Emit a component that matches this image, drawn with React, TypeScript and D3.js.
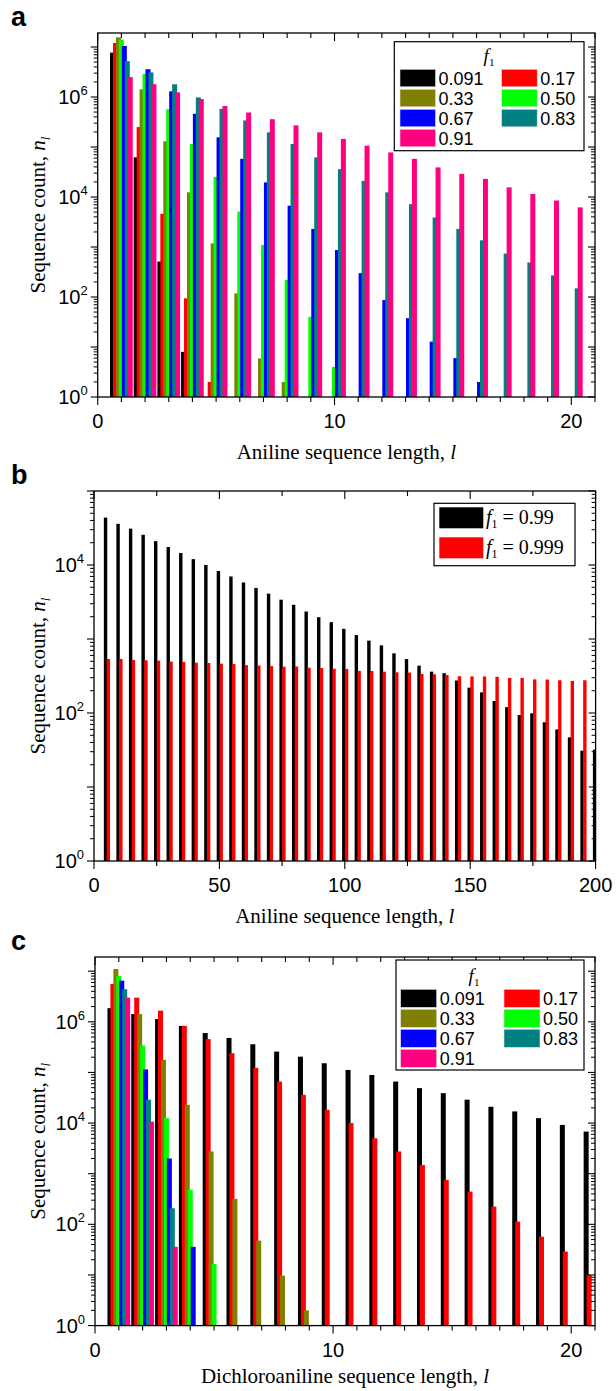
import React from 'react';
import * as d3 from 'd3';

// ---------- data ----------
const COLORS = ['#000000', '#FF0000', '#808000', '#00FF00', '#0000FF', '#008080', '#FF0080'];
const F1_LABELS = ['0.091', '0.17', '0.33', '0.50', '0.67', '0.83', '0.91'];

// Panel a: aniline sequence length l = 1..20
const lengthsA = [1, 2, 3, 4, 5, 6, 7, 8, 9, 10, 11, 12, 13, 14, 15, 16, 17, 18, 19, 20];
const a091 = [7.7e6, 6.2e4, 510, 8];
const a017 = [1.2e7, 2.5e5, 4.6e3, 94, 2];
const a033 = [1.56e7, 1.42e6, 1.3e5, 1.24e4, 1.18e3, 118, 5.9, 2];
const a050 = [1.4e7, 2.9e6, 5.7e5, 1.15e5, 2.5e4, 5.1e3, 1.1e3, 219, 40, 4];
const a067 = [1.05e7, 3.6e6, 1.3e6, 4.6e5, 1.56e5, 5.8e4, 1.96e4, 6.7e3, 2.3e3, 870, 300, 87, 37.6, 12.8, 6, 2];
const a083 = [5.2e6, 3.1e6, 1.8e6, 9.8e5, 5.8e5, 3.4e5, 1.96e5, 1.15e5, 6.2e4, 3.6e4, 2.1e4, 1.24e4, 7.2e3, 3.9e3, 2.3e3, 1.36e3, 740, 490, 270, 149];
const a091b = [2.5e6, 1.8e6, 1.24e6, 9.1e5, 6.6e5, 4.9e5, 3.6e5, 2.7e5, 1.96e5, 1.45e5, 1.06e5, 7.8e4, 5.8e4, 3.9e4, 2.9e4, 2.3e4, 1.56e4, 1.15e4, 8.5e3, 6.2e3];

// Panel b: l = 5..200
const lengthsB = [5, 10, 15, 20, 25, 30, 35, 40, 45, 50, 55, 60, 65, 70, 75, 80, 85, 90, 95, 100,
  105, 110, 115, 120, 125, 130, 135, 140, 145, 150, 155, 160, 165, 170, 175, 180, 185, 190, 195, 200];
const b099 = [4.37e4, 3.6e4, 3.1e4, 2.56e4, 2.1e4, 1.75e4, 1.45e4, 1.2e4, 1.0e4, 8.3e3, 7.0e3, 5.8e3, 4.9e3, 4.1e3,
  3.4e3, 2.9e3, 2.35e3, 1.97e3, 1.69e3, 1.37e3, 1.13e3, 950, 820, 640, 535, 436, 362, 345, 275, 220, 190, 145,
  120, 94, 99, 75, 60, 47, 31, 32];
const b0999 = [537, 538, 519, 516, 510, 495, 490, 478, 474, 464, 460, 443, 438, 431, 422, 425, 409, 405, 396, 394,
  370, 370, 362, 355, 352, 337, 333, 326, 314, 312, 312, 308, 298, 298, 285, 283, 277, 271, 277];
const B_LABELS = ['0.99', '0.999'];
const B_COLORS = ['#000000', '#FF0000'];

// Panel c: dichloroaniline sequence length l = 1..21
const lengthsC = [1, 2, 3, 4, 5, 6, 7, 8, 9, 10, 11, 12, 13, 14, 15, 16, 17, 18, 19, 20, 21];
const c091 = [1.86e6, 1.42e6, 1.13e6, 8.3e5, 6.0e5, 4.8e5, 3.6e5, 2.58e5, 2.05e5, 1.52e5, 1.12e5, 8.9e4, 6.6e4, 4.9e4, 3.9e4, 2.9e4, 2.1e4, 1.7e4, 1.25e4, 9.2e3, 6.8e3];
const c017 = [5.6e6, 3.0e6, 1.66e6, 8.3e5, 4.55e5, 2.4e5, 1.23e5, 6.6e4, 3.6e4, 1.82e4, 1.0e4, 5.0e3, 2.75e3, 1.48e3, 750, 443, 224, 113, 57, 29, 10];
const c033 = [1.1e7, 1.42e6, 1.78e5, 2.3e4, 2.75e3, 318, 47.7, 9.7, 2];
const c050 = [8.1e6, 3.4e5, 1.25e4, 480, 16.5];
const c067 = [6.5e6, 1.15e5, 2.0e3, 36];
const c083 = [4.4e6, 2.9e4, 208];
const c091b = [3.0e6, 1.07e4, 36];

const yTickLabelsAC = [0, 2, 4, 6];
const yTickLabelsB = [0, 2, 4];
const xTickLabelsAC = [0, 10, 20];
const xTickLabelsB = [0, 50, 100, 150, 200];

// ---------- drawing ----------
const SANS = "'Liberation Sans', Arial, sans-serif";
const SERIF = "'Liberation Serif', 'Times New Roman', serif";

type Series = { values: (number | null)[]; lengths: number[]; color: string; offset: number };

function Panel(props: any) {
  const { id, left, right, top, bottom, xMax, yMaxLog, xMajor, xMinor, xLabels, yLabels,
    series, barW, xTitle, titleDy, letter, children } = props;
  const x = d3.scaleLinear().domain([0, xMax]).range([left, right]);
  const y = d3.scaleLog().domain([1, Math.pow(10, yMaxLog)]).range([bottom, top]);

  const majorY: number[] = [];
  const minorY: number[] = [];
  for (let d = 0; d <= Math.floor(yMaxLog); d++) {
    majorY.push(Math.pow(10, d));
    for (let k = 2; k <= 9; k++) {
      const v = k * Math.pow(10, d);
      if (Math.log10(v) <= yMaxLog) minorY.push(v);
    }
  }
  const xTicks: { v: number; major: boolean }[] = [];
  for (let v = 0; v <= xMax + 1e-9; v += xMinor) {
    const major = Math.abs(v / xMajor - Math.round(v / xMajor)) < 1e-6;
    xTicks.push({ v, major });
  }
  const MJ = 7, MN = 4;
  const sw = 1.3;

  return (
    <g>
      <defs>
        <clipPath id={id}>
          <rect x={left} y={top} width={right - left} height={bottom - top} />
        </clipPath>
      </defs>
      <g clipPath={`url(#${id})`}>
        {series.map((s: Series, i: number) =>
          s.values.map((v, j) => {
            if (v == null) return null;
            const cx = x(s.lengths[j]) + s.offset;
            const yy = y(v);
            return <rect key={`${i}-${j}`} x={cx - barW / 2} y={yy} width={barW} height={bottom - yy} fill={s.color} />;
          })
        )}
      </g>
      <rect x={left} y={top} width={right - left} height={bottom - top} fill="none" stroke="#000" strokeWidth={sw} />
      {majorY.map((v) => (
        <g key={'my' + v}>
          <line x1={left - MJ} x2={left} y1={y(v)} y2={y(v)} stroke="#000" strokeWidth={1.1} />
          <line x1={right - MJ} x2={right} y1={y(v)} y2={y(v)} stroke="#000" strokeWidth={1.1} />
        </g>
      ))}
      {minorY.map((v) => (
        <g key={'ny' + v}>
          <line x1={left - MN} x2={left} y1={y(v)} y2={y(v)} stroke="#000" strokeWidth={1} />
          <line x1={right - MN} x2={right} y1={y(v)} y2={y(v)} stroke="#000" strokeWidth={1} />
        </g>
      ))}
      {xTicks.map((t) => {
        const L = t.major ? MJ + 1 : MN + 1;
        return (
          <g key={'x' + t.v}>
            <line x1={x(t.v)} x2={x(t.v)} y1={bottom} y2={bottom + L} stroke="#000" strokeWidth={1.1} />
            <line x1={x(t.v)} x2={x(t.v)} y1={top} y2={top + L} stroke="#000" strokeWidth={1.1} />
          </g>
        );
      })}
      {yLabels.map((e: number) => (
        <text key={'yl' + e} x={left - 10} y={y(Math.pow(10, e)) + 7} textAnchor="end" fontFamily={SANS} fontSize={20}>
          <tspan>10</tspan>
          <tspan dy={-9} fontSize={13}>{e}</tspan>
        </text>
      ))}
      {xLabels.map((v: number) => (
        <text key={'xl' + v} x={x(v)} y={bottom + 31} textAnchor="middle" fontFamily={SANS} fontSize={20}>{v}</text>
      ))}
      <text x={(left + right) / 2} y={bottom + titleDy} textAnchor="middle" fontFamily={SERIF} fontSize={21}>
        {xTitle}<tspan fontStyle="italic">l</tspan>
      </text>
      <text transform={`translate(45,${(top + bottom) / 2}) rotate(-90)`} textAnchor="middle" fontFamily={SERIF} fontSize={21}>
        Sequence count, <tspan fontStyle="italic">n</tspan>
        <tspan fontStyle="italic" fontSize={13} dy={5}>l</tspan>
      </text>
      <text x={11} y={top - 7} fontFamily={SANS} fontWeight="bold" fontSize={27}>{letter}</text>
      {children}
    </g>
  );
}

function F1Legend({ x0, y0, w, h, titleX, rowTop, swH, col0, col1, swW }: any) {
  return (
    <g>
      <rect x={x0} y={y0} width={w} height={h} fill="#fff" stroke="#000" strokeWidth={1.2} />
      <text x={titleX} y={rowTop - 7} textAnchor="middle" fontFamily={SERIF} fontSize={19}>
        <tspan fontStyle="italic">f</tspan>
        <tspan fontSize={11} dy={4}>1</tspan>
      </text>
      {F1_LABELS.map((lab, i) => {
        const col = i % 2 === 0 ? col0 : col1;
        const r = Math.floor(i / 2);
        const ty = rowTop + r * 20;
        return (
          <g key={lab}>
            <rect x={col} y={ty} width={swW} height={swH} fill={COLORS[i]} stroke="#ddd" strokeWidth={0.6} />
            <text x={col + swW + 3} y={ty + swH - 2} fontFamily={SANS} fontSize={18}>{lab}</text>
          </g>
        );
      })}
    </g>
  );
}

function groupSeries(arrays: number[][], lengths: number[]): Series[] {
  return arrays.map((vals, i) => ({
    values: vals,
    lengths: lengths.slice(0, vals.length),
    color: COLORS[i],
    offset: (i - 3) * 2.95,
  }));
}

export default function App() {
  const seriesA = groupSeries([a091, a017, a033, a050, a067, a083, a091b], lengthsA);
  const seriesC = groupSeries([c091, c017, c033, c050, c067, c083, c091b], lengthsC);
  const seriesB: Series[] = [
    { values: b099, lengths: lengthsB, color: B_COLORS[0], offset: -1.0 },
    { values: b0999, lengths: lengthsB.slice(0, b0999.length), color: B_COLORS[1], offset: 1.8 },
  ];
  return (
    <svg width={616} height={1391} style={{ position: 'absolute', left: 0, top: 0, background: '#fff' }}>
      <rect x={0} y={0} width={616} height={1391} fill="#fff" />
      <Panel id="clipA" left={97.7} right={595} top={33} bottom={397} xMax={21} yMaxLog={7.28}
        xMajor={10} xMinor={1} xLabels={xTickLabelsAC} yLabels={yTickLabelsAC} series={seriesA} barW={5}
        xTitle="Aniline sequence length, " titleDy={62} letter="a">
        <F1Legend x0={394.3} y0={41.7} w={189.7} h={109} titleX={489} rowTop={69.3} swH={17.5}
          col0={400} col1={501.7} swW={35.5} />
      </Panel>
      <Panel id="clipB" left={94} right={595.6} top={491} bottom={861} xMax={200} yMaxLog={5}
        xMajor={50} xMinor={25} xLabels={xTickLabelsB} yLabels={yTickLabelsB} series={seriesB} barW={3.4}
        xTitle="Aniline sequence length, " titleDy={62} letter="b">
        <g>
          <rect x={434} y={503.3} width={141} height={62.4} fill="#fff" stroke="#000" strokeWidth={1.2} />
          {B_LABELS.map((lab, i) => (
            <g key={lab}>
              <rect x={439.3} y={507.3 + i * 30} width={44} height={21} fill={B_COLORS[i]} />
              <text x={486} y={524 + i * 30} fontFamily={SERIF} fontSize={20}>
                <tspan fontStyle="italic">f</tspan>
                <tspan fontSize={12} dy={4}>1</tspan>
                <tspan dy={-4}> = {lab}</tspan>
              </text>
            </g>
          ))}
        </g>
      </Panel>
      <Panel id="clipC" left={95} right={595} top={957} bottom={1325.6} xMax={21} yMaxLog={7.28}
        xMajor={10} xMinor={1} xLabels={xTickLabelsAC} yLabels={yTickLabelsAC} series={seriesC} barW={5}
        xTitle="Dichloroaniline sequence length, " titleDy={57} letter="c">
        <F1Legend x0={396} y0={960} w={188} h={110} titleX={474} rowTop={989.3} swH={18}
          col0={400.7} col1={504} swW={36} />
      </Panel>
    </svg>
  );
}
